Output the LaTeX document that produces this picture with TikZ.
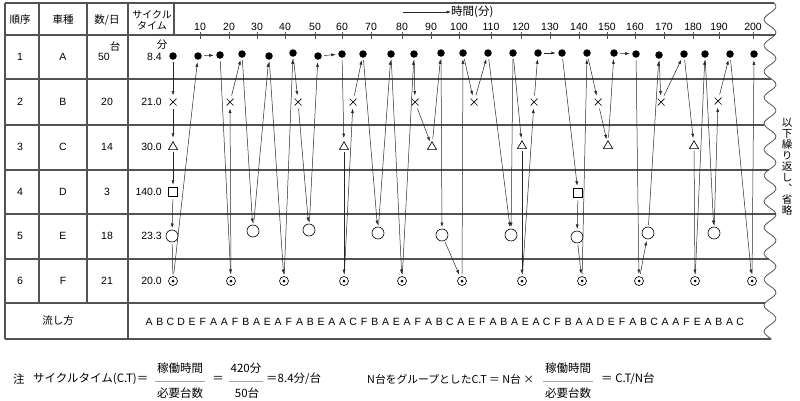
\documentclass[tikz,border=0pt]{standalone}
\usepackage{fontspec}
\setmainfont{Liberation Sans}
\newfontfamily\jp{Noto Sans CJK JP}
\newfontfamily\jpv[RawFeature=+vert]{Noto Sans CJK JP}
\usetikzlibrary{arrows.meta,shapes.geometric}
\tikzset{
  grid/.style={draw=black!68, line width=1.1},
  arr/.style={draw=black!85, line width=0.5, -{Latex[length=4.5,width=3]}},
  plain/.style={draw=black!85, line width=0.5},
  bar/.style={draw=black!35, line width=0.4},
  symA/.style={circle, fill=black, inner sep=0, minimum size=7.5, outer sep=2.5},
  symB/.style={rectangle, inner sep=0, minimum size=7, outer sep=3,
    path picture={\draw[black, line width=0.7] (path picture bounding box.south west) -- (path picture bounding box.north east)
      (path picture bounding box.north west) -- (path picture bounding box.south east);}},
  symC/.style={regular polygon, regular polygon sides=3, draw=black, line width=0.65, inner sep=0, minimum size=10.5, outer sep=2},
  symD/.style={rectangle, draw=black, line width=0.65, inner sep=0, minimum size=9.5, outer sep=2.5},
  symE/.style={circle, draw=black, line width=0.65, inner sep=0, minimum size=12, outer sep=2},
  symF/.style={circle, draw=black, line width=0.65, inner sep=0, minimum size=9, outer sep=2.5,
    path picture={\fill[black] (path picture bounding box.center) circle (1.5);}},
  txt/.style={font=\fontsize{10.5}{12}\selectfont, inner sep=0, text=black},
  ftxt/.style={font=\fontsize{11.5}{13}\selectfont, inner sep=0, text=black},
}
\begin{document}
\begin{tikzpicture}[x=1pt,y=-1pt]
\useasboundingbox (0,0) rectangle (800,400);
% horizontal grid lines ending on the wavy edge
\foreach \yy in {3,35,79,125,170,214,259,303,339}{
  \pgfmathsetmacro\xe{770+6*sin(\yy/26*360)}
  \draw[grid] (5,\yy) -- (\xe,\yy);
}
\draw[grid, line width=0.8] plot[domain=3:339, samples=140, smooth] ({770+6*sin(\x/26*360)}, \x);
% vertical grid lines
\draw[grid] (5,3) -- (5,339);
\draw[grid] (39,3) -- (39,303);
\draw[grid] (87,3) -- (87,303);
\draw[grid] (128,3) -- (128,339);
\draw[grid] (174,3) -- (174,35);
% header
\node[txt] (h1) at (20,20) {\jp 順序};
\node[txt] (h2) at (63,20) {\jp 車種};
\node[txt] (h3) at (107,20) {\jp 数/日};
\node[txt, align=center, font=\fontsize{10}{11.5}\selectfont] (h4) at (152,20) {\jp サイクル\\\jp タイム};
\coordinate (ta) at (403,12);
\node[txt, anchor=west, font=\fontsize{11.5}{13}\selectfont] (tl) at (451,12) {\jp 時間(分)};
\draw[arr] (ta) -- (tl.west);
\foreach \v/\xx in {10/200,20/229,30/257,40/285,50/315,60/342,70/371,80/402,90/431,100/459,110/491,120/521,130/550,140/579,150/607,160/635,170/664,180/693,190/719,200/753}{
  \draw[grid, line width=0.8] (\xx,32) -- (\xx,38.5);
  \node[txt] (t\v) at (\xx,26.5) {\v};
}
% row labels
\foreach \n/\c/\q/\ct/\yy in {1/A/{}/8.4/57, 2/B/20/21.0/102, 3/C/14/30.0/147, 4/D/3/140.0/192, 5/E/18/23.3/236, 6/F/21/20.0/281}{
  \node[txt] (r\n a) at (20,\yy) {\n};
  \node[txt] (r\n b) at (63,\yy) {\c};
  \node[txt] (r\n c) at (107,\yy) {\q};
  \node[txt, anchor=east] (r\n d) at (162,\yy) {\ct};
}
\node[txt] (q50) at (104,57) {50};
\node[txt] (qdai) at (115,46) {\jp 台};
\node[txt] (qfun) at (162,45) {\jp 分};
% symbols in sequence order
\foreach \t/\x/\y [count=\i] in {
 A/173/56, B/173/102, C/173/147, D/173/192, E/172/236, F/173/281,
 A/198/56, A/220/55, F/231/281, B/230/102, A/242/54, E/253/231,
 A/269/56, F/284/281, A/293/53, B/298/102, E/309/230, A/318/56,
 A/342/54, C/344/147, F/344/281, B/353/102, A/363/54, E/378/233,
 A/391/54, F/402/281, A/414/54, B/415/102, C/432/147, A/441/53,
 E/442/235, F/462/281, A/463/53, B/474/102, A/488/53, E/511/235,
 A/513/53, C/522/146, F/522/281, B/534/102, A/538/53, A/562/53,
 D/578/193, E/577/237, F/582/281, A/587/53, B/598/102, C/608/146,
 A/614/53, A/636/54, F/639/281, E/648/233, A/659/55, B/661/102,
 A/684/54, C/694/146, F/695/281, A/705/54, E/714/233, B/718/101,
 A/730/54, F/752/281, A/754/54}{
  \edef\mk{\noexpand\node[sym\t] (s\i) at (\x,\y) {};}\mk
}
% connectors
\foreach \i in {1,...,4,6,7,...,35,37,38,...,62}{
  \pgfmathtruncatemacro\j{\i+1}
  \draw[arr] (s\i) -- (s\j);
}
\draw[plain] (s5) -- (s6);
\draw[arr] (s37) -- (s36);
% flow row
\node[txt] (flow) at (58,321) {\jp 流し方};
\foreach \c [count=\i] in {A,B,C,D,E,F,A,A,F,B,A,E,A,F,A,B,E,A,A,C,F,B,A,E,A,F,A,B,C,A,E,F,A,B,A,E,A,C,F,B,A,A,D,E,F,A,B,C,A,A,F,E,A,B,A,C}{
  \node[txt] (l\i) at ({149+(\i-1)*10.75},322) {\c};
}
% right side note
\node[txt, align=center, font=\fontsize{10.5}{11}\selectfont] (rep) at (787,167)
 {\jpv 以\\\jpv 下\\\jpv 繰\\\jpv り\\\jpv 返\\\jpv し\\\jpv 、\\\jpv 省\\\jpv 略};
% formulas
\node[ftxt, anchor=west] (fz) at (13,379) {\jp 注};
\node[ftxt, anchor=west] (fa) at (33,379) {\jp サイクルタイム(C.T)＝};
\node[ftxt] (f1n) at (180,368) {\jp 稼働時間};
\node[ftxt] (f1d) at (180,393) {\jp 必要台数};
\draw[bar] (155,381) -- (205,381);
\node[ftxt] (feq) at (218,379) {\jp ＝};
\node[ftxt] (f2n) at (246,368) {\jp 420分};
\node[ftxt] (f2d) at (247,393) {\jp 50台};
\draw[bar] (229,381) -- (263,381);
\node[ftxt, anchor=west] (fr) at (266,379) {\jp ＝8.4分/台};
\node[ftxt, anchor=west, font=\fontsize{10.8}{13}\selectfont] (fb) at (367,379) {\jp N台をグループとしたC.T ＝ N台 ×};
\node[ftxt] (f3n) at (568,368) {\jp 稼働時間};
\node[ftxt] (f3d) at (568,393) {\jp 必要台数};
\draw[bar] (543,381) -- (593,381);
\node[ftxt, anchor=west] (fc) at (601,379) {\jp ＝ C.T/N台};
\end{tikzpicture}
\end{document}
